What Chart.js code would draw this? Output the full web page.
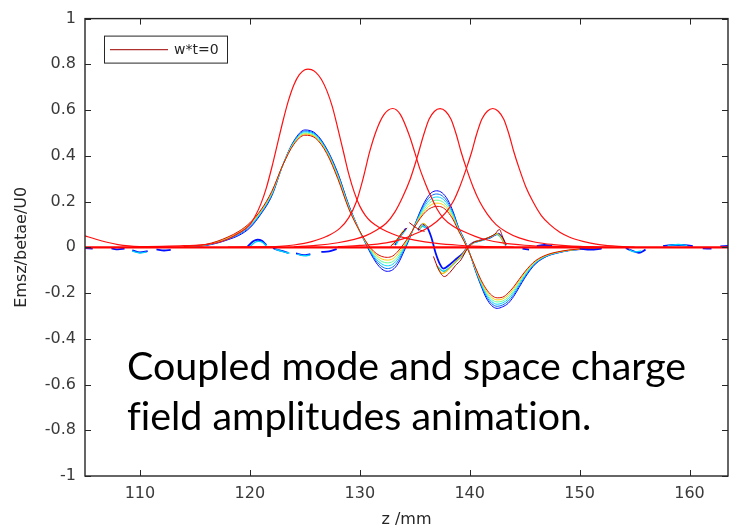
<!DOCTYPE html>
<html>
<head>
<meta charset="utf-8">
<title>Emsz/betae/U0</title>
<script src="https://cdn.jsdelivr.net/npm/chart.js@4.4.1/dist/chart.umd.min.js"></script>
<style>
  html, body { margin: 0; padding: 0; background: #fff; }
  #wrap { position: relative; width: 730px; height: 532px; }
  #note {
    position: absolute; left: 127px; top: 340px;
    font-family: Lato, 'Open Sans', sans-serif; font-size: 39.4px; line-height: 50px;
    font-variant-ligatures: none;
    color: #000; white-space: nowrap;
  }
</style>
</head>
<body>
<div id="wrap">
  <canvas id="chart" width="730" height="532"></canvas>
  <div id="note">Coupled mode and space charge<br>field amplitudes animation.</div>
</div>
<script>
const xTicks = [110, 120, 130, 140, 150, 160];
const yTicks = [-1, -0.8, -0.6, -0.4, -0.2, 0, 0.2, 0.4, 0.6, 0.8, 1];
const legendLabel = 'w*t=0';

// coupled-mode envelope, one frame per snapshot (z in mm, value)
const modeTail = [[105,0.05],[106,0.035],[107,0.022],[108,0.012],[109,0.006],[110,0.003],[112,0.001],[114,0]];
const modeFrame1 = [[110,0.002],[112,0.004],[114,0.007],[116,0.012],[117,0.02],[118,0.036],[119,0.062],[120,0.099],[120.5,0.138],[121,0.19],[121.5,0.26],[122,0.35],[122.5,0.45],[123,0.55],[123.5,0.64],[124,0.71],[124.5,0.755],[125,0.776],[125.3,0.779],[125.6,0.777],[126,0.765],[126.5,0.735],[127,0.685],[127.5,0.615],[128,0.52],[128.5,0.42],[129,0.32],[129.5,0.24],[130,0.18],[130.5,0.14],[131,0.113],[131.5,0.095],[132,0.08],[133,0.058],[134,0.042],[135,0.031],[137,0.017],[139,0.009],[141,0.004],[144,0.001]];
const modeFrame2 = [[118,0.001],[120,0.002],[122.7,0.004],[124,0.01],[125.7,0.026],[127,0.048],[128.2,0.084],[129,0.13],[129.7,0.2],[130.3,0.3],[130.9,0.418],[131.5,0.51],[132.2,0.58],[133,0.607],[133.7,0.58],[134.5,0.49],[135,0.415],[135.45,0.345],[136,0.275],[136.4,0.23],[137,0.17],[137.6,0.128],[138.5,0.092],[139.4,0.07],[140.5,0.048],[141.5,0.033],[143,0.019],[145,0.009],[148,0.003],[151,0]];
const modeFrame3 = [[124,0.002],[126,0.008],[128,0.02],[129.5,0.035],[130.5,0.05],[131.5,0.075],[132.4,0.105],[133.2,0.155],[133.9,0.22],[134.6,0.3],[135.2,0.39],[135.8,0.49],[136.3,0.56],[136.8,0.595],[137.3,0.606],[137.8,0.595],[138.3,0.56],[138.8,0.49],[139.2,0.42],[139.7,0.345],[140.3,0.265],[140.9,0.2],[141.6,0.145],[142.4,0.099],[143.3,0.068],[144.5,0.041],[146,0.022],[147.6,0.012],[150,0.004],[153,0]];
const modeFrame4 = [[128,0.003],[130,0.008],[132.4,0.019],[134,0.038],[134.85,0.055],[136,0.08],[137,0.113],[137.8,0.15],[138.5,0.2],[139.1,0.265],[139.7,0.345],[140.2,0.42],[140.6,0.49],[141.1,0.56],[141.6,0.595],[142.1,0.607],[142.6,0.595],[143.1,0.56],[143.6,0.49],[144,0.42],[144.5,0.345],[145.1,0.265],[145.75,0.2],[146.5,0.14],[147.3,0.099],[148.2,0.066],[149.1,0.044],[150.3,0.026],[151.5,0.014],[153,0.006],[155,0.001]];
const zeroLine = [[105,0],[163.5,0]];

// field amplitude frames on a shared z grid
const mainZ = [114,116,117,118,119,120,121,122,123,124,125,126,127,128,129,130,130.5,131,131.5,132,132.5,133,133.5,134,134.5,135,135.5,136,136.5,137,137.5,138,138.5,139,139.5,140,140.5,141,141.5,142,142.5,143,143.5,144,144.5,145,145.5,146,147,148,149,150,152];
const fieldBlue = [0.002,0.008,0.018,0.033,0.052,0.085,0.145,0.225,0.36,0.465,0.513,0.497,0.43,0.325,0.185,0.07,0.02,-0.028,-0.068,-0.095,-0.105,-0.098,-0.07,-0.02,0.035,0.098,0.158,0.207,0.238,0.247,0.238,0.208,0.155,0.085,0.035,-0.025,-0.1,-0.165,-0.221,-0.255,-0.267,-0.26,-0.245,-0.215,-0.175,-0.135,-0.1,-0.072,-0.04,-0.025,-0.015,-0.01,-0.004];
const fieldLightBlue = [0.002,0.009,0.02,0.035,0.056,0.089,0.149,0.229,0.36,0.462,0.508,0.493,0.426,0.32,0.182,0.07,0.022,-0.023,-0.06,-0.084,-0.093,-0.086,-0.059,-0.013,0.038,0.096,0.152,0.197,0.225,0.233,0.225,0.197,0.148,0.082,0.033,-0.026,-0.097,-0.16,-0.213,-0.246,-0.258,-0.252,-0.236,-0.207,-0.168,-0.13,-0.096,-0.069,-0.039,-0.024,-0.014,-0.009,-0.004];
const fieldCyan = [0.003,0.01,0.021,0.038,0.059,0.094,0.152,0.233,0.36,0.459,0.504,0.489,0.422,0.315,0.178,0.07,0.024,-0.018,-0.052,-0.073,-0.081,-0.074,-0.048,-0.006,0.041,0.095,0.146,0.187,0.212,0.22,0.213,0.187,0.141,0.079,0.031,-0.026,-0.094,-0.155,-0.205,-0.237,-0.249,-0.243,-0.227,-0.198,-0.161,-0.124,-0.092,-0.066,-0.037,-0.023,-0.014,-0.009,-0.004];
const fieldGreen = [0.003,0.011,0.023,0.04,0.063,0.098,0.156,0.237,0.36,0.456,0.499,0.484,0.418,0.31,0.175,0.07,0.026,-0.014,-0.043,-0.062,-0.068,-0.062,-0.038,0.001,0.044,0.093,0.139,0.176,0.199,0.206,0.2,0.176,0.134,0.076,0.029,-0.027,-0.091,-0.15,-0.198,-0.228,-0.239,-0.235,-0.218,-0.19,-0.154,-0.119,-0.088,-0.064,-0.036,-0.022,-0.013,-0.008,-0.003];
const fieldYellow = [0.004,0.012,0.024,0.043,0.066,0.103,0.159,0.241,0.36,0.453,0.495,0.48,0.414,0.305,0.171,0.07,0.028,-0.009,-0.035,-0.051,-0.056,-0.05,-0.027,0.008,0.047,0.092,0.133,0.166,0.186,0.193,0.188,0.166,0.127,0.073,0.027,-0.027,-0.088,-0.145,-0.19,-0.219,-0.23,-0.226,-0.209,-0.181,-0.147,-0.113,-0.084,-0.061,-0.034,-0.021,-0.013,-0.008,-0.003];
const fieldRed = [0.004,0.013,0.026,0.045,0.07,0.107,0.163,0.245,0.36,0.45,0.49,0.476,0.41,0.3,0.168,0.07,0.03,-0.004,-0.027,-0.04,-0.044,-0.038,-0.016,0.015,0.05,0.09,0.127,0.156,0.173,0.179,0.175,0.155,0.12,0.07,0.025,-0.028,-0.085,-0.14,-0.182,-0.21,-0.221,-0.218,-0.2,-0.173,-0.14,-0.108,-0.08,-0.058,-0.033,-0.02,-0.012,-0.007,-0.003];

// space charge field frames (null = no trace)
const chargeBlue = [[105,-0.004],[105.7,-0.006],[106.4,null],[107.4,-0.005],[108,-0.009],[108.6,-0.006],[109,null],[109.3,-0.013],[110,-0.022],[110.7,-0.017],[111.1,null],[111.5,-0.009],[112.2,-0.014],[112.8,-0.011],[113.2,null],[119.8,0.004],[120.3,0.026],[120.7,0.033],[121.1,0.028],[121.5,0.01],[121.8,null],[122.1,-0.004],[122.8,-0.015],[123.5,-0.024],[123.9,null],[124.2,-0.027],[124.9,-0.034],[125.5,-0.03],[126,null],[126.5,-0.02],[127.2,-0.018],[127.9,-0.008],[128.3,null],[133.2,0.01],[133.7,0.05],[134.2,0.082],[134.6,null],[135.3,0.075],[135.7,0.1],[136.1,0.09],[136.5,0.045],[136.9,-0.025],[137.3,-0.075],[137.6,-0.093],[138.2,-0.075],[138.8,-0.05],[139.4,-0.025],[139.8,0],[140.3,0.02],[141,0.03],[141.7,0.04],[142.3,0.054],[142.6,0.06],[143,0.038],[143.3,0.008],[143.7,null],[144.8,-0.006],[145.4,-0.01],[145.8,null],[146.1,0.006],[146.8,0.01],[147.5,0.006],[147.9,null],[150,-0.006],[151,-0.01],[152,-0.006],[152.4,null],[154.2,-0.004],[154.8,-0.015],[155.4,-0.024],[156,-0.01],[156.4,null],[157.6,0.006],[158.5,0.01],[159.4,0.01],[160.3,0.005],[160.7,null],[161.2,-0.005],[162,-0.006],[162.4,null],[162.8,0.004],[163.5,0.006]];
const chargeCyan = [[109.3,-0.017],[110,-0.025],[110.6,-0.02],[111,null],[120,0.002],[120.4,0.02],[120.8,0.026],[121.2,0.02],[121.5,0.006],[121.8,null],[122.3,-0.008],[123,-0.019],[123.6,-0.026],[124,null],[124.3,-0.03],[125,-0.037],[125.5,-0.033],[126,null],[133.3,0.012],[133.8,0.055],[134.2,0.078],[134.5,null],[135.4,0.078],[135.7,0.092],[136,0.085],[136.3,null],[137.1,-0.085],[137.6,-0.105],[138.2,-0.088],[138.8,-0.06],[139.4,-0.033],[139.8,-0.002],[140.4,0.021],[141.2,0.031],[141.9,0.045],[142.4,0.057],[142.8,0.045],[143.2,0.01],[143.5,null],[154.5,-0.01],[155,-0.02],[155.6,-0.016],[156,null],[158,0.008],[159,0.012],[159.8,0.008]];
const chargeYellow = [[133,0.01],[133.5,0.04],[134,0.075],[134.3,null],[135.4,0.08],[135.8,0.105],[136.1,0.09],[136.4,null],[137,-0.08],[137.5,-0.115],[138,-0.1],[138.6,-0.068],[139.2,-0.04],[139.8,-0.003],[140.4,0.022],[141.2,0.033],[142,0.048],[142.5,0.06],[142.9,0.04],[143.2,0.01]];
const chargeRed = [[132.8,0.005],[133.3,0.028],[133.8,0.06],[134.3,0.085],[134.4,null],[134.5,0.108],[135,0.09],[135.5,0.075],[135.9,0.07],[136.2,null],[136.7,-0.04],[137.2,-0.1],[137.7,-0.128],[138.2,-0.11],[138.7,-0.08],[139.2,-0.055],[139.8,-0.005],[140.3,0.02],[141,0.03],[141.7,0.042],[142.3,0.058],[142.7,0.078],[143,0.045],[143.3,0.012]];

const fieldFrames = [fieldBlue, fieldLightBlue, fieldCyan, fieldGreen, fieldYellow, fieldRed];
const fieldColors = ['#0000ff', '#0070ff', '#00d8ff', '#60ff90', '#ffcc00', '#d81000'];

const tickFont = { family: "'DejaVu Sans', sans-serif", size: 16 };
const tickColor = '#3a3a3a';

function pairsToPoints(pairs) {
    return pairs.map(p => ({ x: p[0], y: p[1] }));
}

function makeLine(points, color, width, order, label) {
    return {
        label,
        data: points,
        showLine: true,
        borderColor: color,
        backgroundColor: color,
        borderWidth: width,
        pointRadius: 0,
        cubicInterpolationMode: 'monotone',
        spanGaps: false,
        order
    };
}

const datasets = [];
fieldFrames.forEach((frame, i) => {
    const pts = mainZ.map((z, k) => ({ x: z, y: frame[k] }));
    const isLast = i === fieldFrames.length - 1;
    datasets.push(makeLine(pts, fieldColors[i], 1, 20 - i, isLast ? legendLabel : undefined));
});
datasets.push(makeLine(pairsToPoints(chargeBlue), '#0010ff', 1.8, 9));
datasets.push(makeLine(pairsToPoints(chargeCyan), '#00d0ff', 1.4, 8));
datasets.push(makeLine(pairsToPoints(chargeYellow), '#f0c000', 1.2, 7));
datasets.push(makeLine(pairsToPoints(chargeRed), '#b00000', 1, 6));
[modeTail, modeFrame1, modeFrame2, modeFrame3, modeFrame4].forEach(frame => {
    datasets.push(makeLine(pairsToPoints(frame), '#ff1010', 1.2, 2));
});
datasets.push(makeLine(pairsToPoints(zeroLine), '#ff0000', 2.2, 0));

// MATLAB style box with inward ticks on all sides
const axesBox = {
    id: 'axesBox',
    afterDraw(chart) {
        const { ctx, chartArea: a, scales: { x, y } } = chart;
        ctx.save();
        ctx.strokeStyle = '#262626';
        ctx.lineWidth = 1.4;
        ctx.strokeRect(a.left, a.top, a.right - a.left, a.bottom - a.top);
        ctx.lineWidth = 1;
        ctx.beginPath();
        x.ticks.forEach(t => {
            const px = Math.round(x.getPixelForValue(t.value)) + 0.5;
            ctx.moveTo(px, a.bottom); ctx.lineTo(px, a.bottom - 6);
            ctx.moveTo(px, a.top); ctx.lineTo(px, a.top + 6);
        });
        y.ticks.forEach(t => {
            const py = Math.round(y.getPixelForValue(t.value)) + 0.5;
            ctx.moveTo(a.left, py); ctx.lineTo(a.left + 6, py);
            ctx.moveTo(a.right, py); ctx.lineTo(a.right - 6, py);
        });
        ctx.stroke();
        ctx.restore();
    }
};

const boxLegend = {
    id: 'boxLegend',
    afterDraw(chart) {
        const ds = chart.data.datasets.find(d => d.label === legendLabel);
        if (!ds) return;
        const { ctx, chartArea: a } = chart;
        const bx = a.left + 19, by = a.top + 17, bw = 123, bh = 27;
        ctx.save();
        ctx.fillStyle = '#fff';
        ctx.fillRect(bx, by, bw, bh);
        ctx.strokeStyle = '#262626';
        ctx.lineWidth = 1;
        ctx.strokeRect(bx + 0.5, by + 0.5, bw, bh);
        ctx.strokeStyle = '#b03030';
        ctx.lineWidth = 1.2;
        ctx.beginPath();
        ctx.moveTo(bx + 6, by + 14);
        ctx.lineTo(bx + 64, by + 14);
        ctx.stroke();
        ctx.fillStyle = '#262626';
        ctx.font = "14px 'DejaVu Sans', sans-serif";
        ctx.textBaseline = 'middle';
        ctx.fillText(ds.label, bx + 70, by + 14.5);
        ctx.restore();
    }
};

new Chart(document.getElementById('chart'), {
    type: 'scatter',
    data: { datasets },
    options: {
        responsive: false,
        animation: false,
        layout: { padding: { top: 17, right: 2, left: 0, bottom: 0 } },
        plugins: { legend: { display: false }, tooltip: { enabled: false } },
        scales: {
            x: {
                type: 'linear',
                min: 105,
                max: 163.5,
                afterBuildTicks(scale) { scale.ticks = xTicks.map(v => ({ value: v })); },
                afterFit(scale) { scale.height = 56; },
                grid: { display: false, drawTicks: false },
                border: { display: false },
                ticks: { font: tickFont, color: tickColor, padding: 8, maxRotation: 0 },
                title: { display: true, text: 'z /mm', font: tickFont, color: '#262626', padding: { top: 0, bottom: 3 } }
            },
            y: {
                type: 'linear',
                min: -1,
                max: 1,
                afterBuildTicks(scale) { scale.ticks = yTicks.map(v => ({ value: v })); },
                afterFit(scale) { scale.width = 85; },
                grid: { display: false, drawTicks: false },
                border: { display: false },
                ticks: {
                    font: tickFont,
                    color: tickColor,
                    padding: 9,
                    callback(value) { return String(Math.round(value * 10) / 10); }
                },
                title: { display: true, text: 'Emsz/betae/U0', font: tickFont, color: '#262626', padding: { top: 12, bottom: 0 } }
            }
        }
    },
    plugins: [axesBox, boxLegend]
});
</script>
</body>
</html>
